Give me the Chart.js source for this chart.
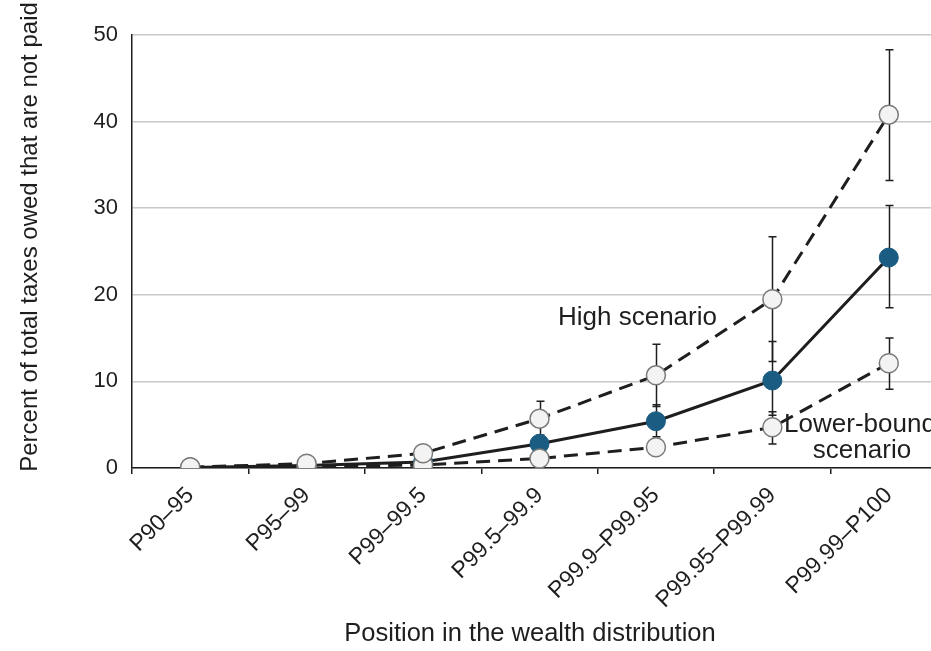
<!DOCTYPE html>
<html>
<head>
<meta charset="utf-8">
<script src="https://cdn.jsdelivr.net/npm/chart.js@4"></script>
<style>
  html, body { margin: 0; padding: 0; overflow: hidden; background: #fff; }
  #wrap { width: 960px; height: 651px; position: relative; }
</style>
</head>
<body>
<div id="wrap"><canvas id="c"></canvas></div>
<script>
const categories = ['P90–95', 'P95–99', 'P99–99.5', 'P99.5–99.9', 'P99.9–P99.95', 'P99.95–P99.99', 'P99.99–P100'];
const highScenario    = [0.1, 0.5, 1.7, 5.7, 10.7, 19.5, 40.8];
const lowerScenario   = [0.05, 0.1, 0.35, 1.1, 2.4, 4.7, 12.1];
const centralEstimate = [0.05, 0.3, 0.7, 2.8, 5.4, 10.1, 24.3];
const highErrLow    = [null, null, null, 3.8, 7.1, 12.3, 33.2];
const highErrHigh   = [null, null, null, 7.7, 14.3, 26.7, 48.3];
const centralErrLow  = [null, null, null, 2.0, 3.6, 6.1, 18.5];
const centralErrHigh = [null, null, null, 3.6, 7.3, 14.6, 30.3];
const lowerErrLow    = [null, null, null, 0.6, 1.8, 2.77, 9.1];
const lowerErrHigh   = [null, null, null, 1.6, 3.0, 6.5, 15.0];
const yTicks = [0, 10, 20, 30, 40, 50];

const FONT = "'Liberation Sans', Arial, Helvetica, sans-serif";
const INK = '#1e1e1e';

const errorBars = {
  id: 'errorBars',
  beforeDatasetsDraw(chart) {
    const ctx = chart.ctx;
    const x = chart.scales.x, y = chart.scales.y;
    const sets = [[highErrLow, highErrHigh], [centralErrLow, centralErrHigh], [lowerErrLow, lowerErrHigh]];
    ctx.save();
    ctx.strokeStyle = INK;
    ctx.lineWidth = 1.5;
    sets.forEach(([lo, hi]) => {
      for (let i = 0; i < categories.length; i++) {
        if (lo[i] == null || hi[i] == null) continue;
        const px = Math.round(x.getPixelForValue(i)) + 0.5;
        const py1 = y.getPixelForValue(lo[i]);
        const py2 = y.getPixelForValue(hi[i]);
        ctx.beginPath();
        ctx.moveTo(px, py1); ctx.lineTo(px, py2);
        ctx.moveTo(px - 4, py1); ctx.lineTo(px + 4, py1);
        ctx.moveTo(px - 4, py2); ctx.lineTo(px + 4, py2);
        ctx.stroke();
      }
    });
    ctx.restore();
  }
};

const textLayer = {
  id: 'textLayer',
  afterDraw(chart) {
    const ctx = chart.ctx;
    ctx.save();
    ctx.fillStyle = INK;
    // annotations
    ctx.font = '26px ' + FONT;
    ctx.textBaseline = 'alphabetic';
    ctx.textAlign = 'left';
    ctx.fillText('High scenario', 558, 325);
    ctx.textAlign = 'center';
    ctx.fillText('Lower-bound', 860, 432);
    ctx.fillText('scenario', 862, 458);
    // axis titles
    ctx.textBaseline = 'middle';
    ctx.font = '25.5px ' + FONT;
    ctx.fillText('Position in the wealth distribution', 530, 634);
    ctx.font = '24px ' + FONT;
    ctx.translate(30, 237);
    ctx.rotate(-Math.PI / 2);
    ctx.fillText('Percent of total taxes owed that are not paid', 0, 0);
    ctx.restore();
  }
};

const whitePoint = {
  pointRadius: 9.5, pointHoverRadius: 9.5,
  pointBackgroundColor: '#f3f3f3', pointBorderColor: '#7a7a7a', pointBorderWidth: 1.5
};

new Chart(document.getElementById('c'), {
  type: 'line',
  data: {
    labels: categories,
    datasets: [
      Object.assign({ label: 'High scenario', data: highScenario, borderColor: INK, borderWidth: 3, borderDash: [14, 8], fill: false, tension: 0 }, whitePoint),
      Object.assign({ label: 'Lower-bound scenario', data: lowerScenario, borderColor: INK, borderWidth: 3, borderDash: [14, 8], fill: false, tension: 0 }, whitePoint),
      { label: 'Central estimate', data: centralEstimate, borderColor: INK, borderWidth: 3, fill: false, tension: 0,
        pointRadius: 9.5, pointHoverRadius: 9.5, pointBackgroundColor: '#1b5c82', pointBorderColor: '#1b5c82', pointBorderWidth: 1 }
    ]
  },
  options: {
    responsive: true,
    maintainAspectRatio: false,
    animation: false,
    devicePixelRatio: 1,
    layout: { padding: { top: 35, right: 13, left: 0, bottom: 0 } },
    plugins: { legend: { display: false }, tooltip: { enabled: false } },
    scales: {
      x: {
        type: 'category',
        offset: true,
        afterFit(s) { s.height = 183; },
        grid: { offset: true, drawOnChartArea: false, drawTicks: true, tickLength: 6, color: INK, lineWidth: 1.5 },
        border: { display: true, color: INK, width: 1.5 },
        ticks: { autoSkip: false, minRotation: 45, maxRotation: 45, color: INK, padding: 8, font: { family: FONT, size: 23 } }
      },
      y: {
        min: 0, max: 50,
        afterFit(s) { s.width = 132; },
        afterBuildTicks(s) { s.ticks = yTicks.map(v => ({ value: v })); },
        grid: { color: '#c8c8c8', lineWidth: 1.5, drawTicks: false },
        border: { display: true, color: INK, width: 1.5 },
        ticks: { color: INK, padding: 14, font: { family: FONT, size: 22 } }
      }
    }
  },
  plugins: [errorBars, textLayer]
});
</script>
</body>
</html>
